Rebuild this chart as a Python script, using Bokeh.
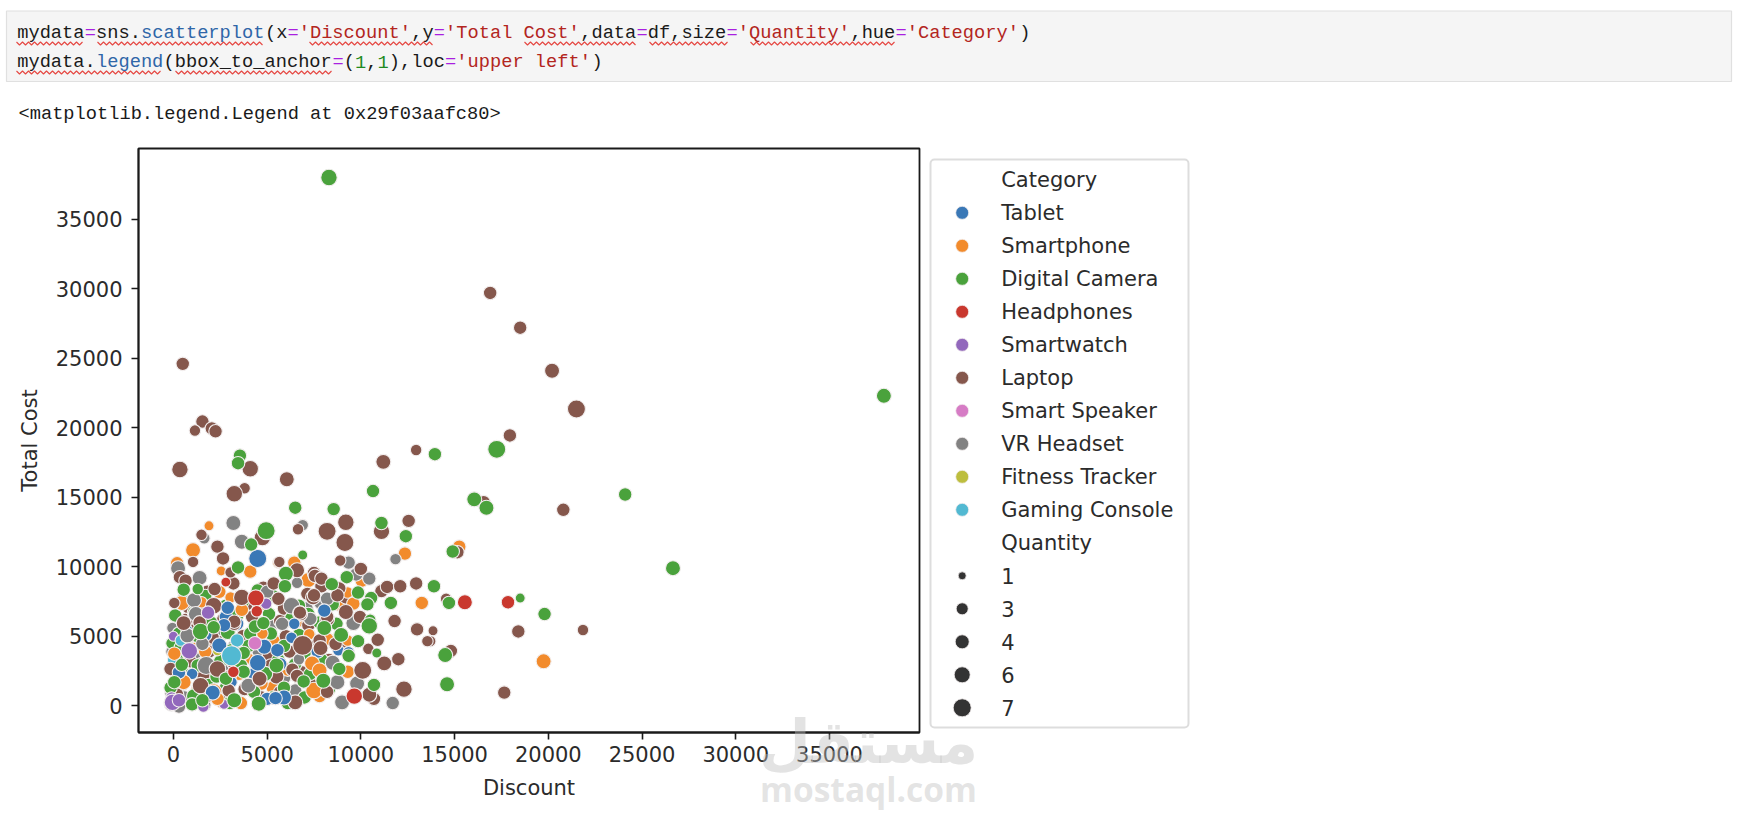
from bokeh.plotting import figure
from bokeh.layouts import column
from bokeh.models import (Range1d, FixedTicker, Label, BoxAnnotation, ColumnDataSource)
from bokeh.embed import file_html
from bokeh.resources import INLINE

# ---- values: (Discount, Total Cost, Quantity) ----
under_green = [(100,6500,3),(300,5200,3),(-100,4500,2),(200,3300,3),(700,2200,3),(-150,1300,3),(1100,700,4),(1900,1500,3),
 (2500,3200,3),(1300,5000,3),(2000,6000,3),(2900,5300,4),(3400,6500,3),(3600,2900,3),(4300,1000,3),(4900,2300,4),(5200,5200,3),
 (5600,3300,3),(5900,1300,3),(6300,6300,3),(6700,5100,3),(7000,3800,3),(7300,2300,3),(7900,3300,3),(600,7800,3),(1100,6700,3),
 (2800,7200,3),(4100,5200,3),(5100,6600,3),(6100,200,3),(3000,200,3),(1000,100,3),(7000,600,3),(8300,1200,3),(5300,7900,3),
 (1700,7900,3),(3700,7500,3),(4500,8300,3),(6700,7200,3),(7200,6600,3),(8500,7300,3),(7800,6000,3),(4000,4300,3),(2300,2100,3),
 (3100,4000,3),(5900,4300,3),(6500,3000,3),(8700,5900,3),(400,4200,3),(1300,2900,3),(2800,1300,3),(5300,600,3)]
under_laptop = [(300,4200,3),(900,3200,3),(1600,2200,3),(200,800,3),(2400,4600,3),(3200,3100,3),(3700,5000,3),(4200,6400,3),
 (4800,5300,4),(5100,3700,3),(5500,2100,4),(6200,3900,3),(6000,5000,3),(6900,2400,3),(7600,4300,3),(8300,3300,3),(2700,6200,4),
 (1500,7000,3),(700,6200,3),(1900,3900,3),(3800,1200,3),(4700,600,3),(5700,6100,3),(7200,5800,3),(2900,900,3),(1000,5400,3),
 (2100,4900,3),(3000,2100,3),(4400,3000,3),(5200,2900,3),(6800,4600,3),(7300,1600,3),(9000,4600,3),(9200,7800,3),(7900,8600,3),
 (5900,7000,3),(4800,8500,3),(3900,7300,3),(1800,8200,3),(800,7100,3),(200,2000,3),(1800,700,3),(5700,1000,3)]
under_orange = [(800,5000,3),(1300,1200,3),(2200,2800,2),(3100,5700,2),(4000,3400,2),(4600,7100,3),(5300,1300,3),(6100,2600,3),
 (7100,4700,2),(2600,300,3),(3600,200,3),(1200,4200,2),(500,3000,2),(7800,700,3),(6600,6000,2),(1900,4400,3),(3500,2300,3),
 (4700,1600,3),(6900,6500,3),(8200,4800,3),(8800,7300,3),(5400,4600,3),(1300,5900,2)]
under_tablet = [(-100,2800,2),(700,5500,2),(1700,5100,3),(2800,6400,3),(3400,5900,3),(4300,2300,3),(5700,3000,3),(6300,4900,2),
 (7700,3900,3),(3100,1700,2),(1000,2300,2),(5000,500,3),(5900,5900,2),(8800,4000,2)]
under_vr = [(-50,5600,2),(-100,3900,2),(400,1500,3),(1200,3600,3),(2200,600,2),(3200,4300,2),(4500,3900,2),(5300,5800,2),
 (6500,1100,3),(7300,5100,2),(-100,150,4),(-150,900,2),(300,-50,3),(1700,50,2),(600,600,3),(1500,3000,3),(3600,3800,3),
 (4900,4700,3),(5900,2000,3),(7100,7000,3),(900,4500,3),(2600,5400,3),(2900,2600,3)]
under_purple = [(-100,600,2),(0,5000,1),(1600,-50,2),(2700,100,1)]
under_cyan = [(-50,3300,1),(400,4700,2),(3400,4700,3)]

laptop = [(16900,29700,3),(18500,27200,3),(20200,24100,4),(21500,21350,6),(17950,19450,3),(500,24600,3),(1550,20450,3),
 (1150,19800,2),(2050,19950,3),(2250,19750,3),(350,17000,5),(4100,17050,5),(3800,15650,2),(3250,15250,5),(6050,16300,4),
 (11200,17550,4),(12950,18400,2),(9200,13200,5),(8200,12550,6),(12550,13300,3),(11100,12550,5),(9150,11750,6),(6650,12700,2),
 (1500,12300,2),(2350,11450,3),(2650,10600,3),(1050,10350,2),(4750,12100,5),(20800,14100,3),(16550,14650,3),(15150,11050,3),
 (18400,5350,3),(21850,5450,2),(17650,950,3),(13850,5400,1),(13700,4650,2),(14800,3950,3),(14550,7700,2),(350,9250,3),(650,9000,3),
 (2200,8400,3),(3200,8800,3),(3050,9600,2),(50,7400,2),(2150,7200,5),(3650,7800,5),(5600,7700,3),(6750,6650,4),(6600,9750,4),
 (7500,9550,3),(5350,8800,3),(5650,10350,2),(7150,8050,3),(7450,7800,4),(8900,10450,2),(10000,9850,3),(7550,9350,3),(7900,9150,3),
 (8850,8450,3),(11100,8250,3),(11400,8550,3),(12100,8600,3),(12950,8800,3),(9200,6750,4),(9950,6400,3),(11800,6100,3),(8200,6250,4),
 (7500,7950,3),(8750,7950,3),(12000,3350,3),(11250,3050,4),(10900,4750,3),(10400,4100,2),(13000,5500,3),(13550,4650,2),(12300,1200,5),
 (10700,500,3),(10450,800,4),(10100,2550,6),(8200,1000,3),(8650,4450,3),(7800,4700,3),(7850,4150,4),(6900,4350,7),(6350,2600,3),
 (6600,2150,3),(6800,6600,3),(8200,6400,3),(6750,6700,3),(550,5950,4),(3250,5900,3),(1400,6000,3),(2350,2650,5),(1450,1450,5),
 (2950,1100,3),(4600,1950,4),(6500,250,4),(3250,6050,3),(-150,2650,3),(1850,6700,2)]
vr_headset = [(3200,13150,4),(6900,13000,2),(3650,11800,4),(1650,12050,2),(11850,10550,2),(250,9900,4),(1400,9200,4),(1100,7600,4),
 (5000,8200,3),(6300,7200,5),(6600,8850,2),(9350,10300,3),(9750,9450,3),(10450,9150,3),(7850,7400,3),(8200,7700,3),(7300,6250,3),
 (5800,5900,3),(750,5050,4),(1550,4450,3),(1750,2900,6),(4000,1450,4),(6700,3350,2),(7300,6250,3),(9600,5950,4),(8500,3100,4),
 (8750,1700,4),(9800,1600,4),(9000,250,4),(11700,200,3),(1200,6600,4)]
smartphone = [(200,10250,3),(1050,11200,4),(1900,12950,1),(12350,10950,3),(13250,7400,3),(4100,9650,3),(2550,9700,1),(6450,10300,3),
 (5600,10300,2),(15250,11450,3),(19750,3200,4),(450,7400,4),(2450,8200,3),(1500,7450,2),(3050,7800,2),(3650,6900,3),(7200,9050,4),
 (10050,9000,3),(9300,8150,2),(9600,7350,3),(7250,5150,2),(2150,1000,5),(50,3750,3),(550,1700,4),(1700,3900,3),(7400,3050,4),
 (7500,1100,5),(9300,2450,3),(7800,2550,4),(4750,5200,2),(2350,500,3),(9300,4700,2)]
tablet = [(4500,10600,6),(2900,7050,3),(8050,6850,3),(6450,5900,2),(2450,4350,4),(4850,4250,4),(4500,3100,5),(5550,4000,3),(5900,600,4),
 (5450,550,3),(2100,950,4),(300,2400,3),(9350,3850,2),(2700,5800,3)]
digital_camera = [(8300,38000,5),(37900,22300,4),(26650,9900,4),(24100,15200,3),(17250,18450,6),(13950,18100,3),(3550,18000,3),
 (3450,17450,3),(10650,15450,3),(6500,14250,3),(8550,14150,3),(11100,13150,3),(12400,12200,3),(4950,12600,6),(4150,11600,3),
 (6900,10850,1),(3450,9950,3),(16050,14850,4),(16700,14250,4),(14900,11100,3),(13900,8600,3),(14700,7400,3),(18500,7750,1),
 (19800,6600,3),(14500,3650,4),(14600,1550,4),(550,8350,3),(1300,8400,2),(6000,9500,4),(5950,8600,3),(8450,8750,3),(9250,9250,3),
 (9850,8150,3),(10550,7750,3),(10350,7300,3),(11600,7400,3),(10500,6200,2),(10450,5750,5),(8050,5600,4),(8950,5100,4),(9850,4650,3),
 (9350,3600,3),(10850,3800,1),(4350,5700,3),(4800,5950,3),(1450,5350,5),(3750,3800,3),(450,2950,3),(5500,2900,4),(6950,1750,3),
 (50,1700,3),(2800,1950,3),(3750,2450,3),(4550,150,4),(3250,400,4),(1550,400,3),(8000,1800,4),(10700,1500,3),(8850,2650,3),(2150,5650,3)]
headphones = [(15550,7450,4),(17850,7450,3),(4400,7750,5),(4450,6800,2),(2800,8900,1),(3200,2450,2),(9650,700,5)]
smartwatch = [(1850,6700,3),(4950,7350,2),(850,3950,5),(-50,250,5),(300,400,3)]
smart_speaker = [(4350,4500,3)]
fitness_tracker = [(2350,3950,1)]
gaming_console = [(3100,3600,7)]

categories = ["Tablet", "Smartphone", "Digital Camera", "Headphones", "Smartwatch", "Laptop",
              "Smart Speaker", "VR Headset", "Fitness Tracker", "Gaming Console"]
category_colors = ["#3a78b6", "#f28b2c", "#4aa23c", "#c9382e", "#9268bc", "#85574c",
                   "#d67cc5", "#828282", "#bdbe3e", "#52b9d2"]
legend_quantities = [1, 3, 4, 6, 7]
x_ticks = [0, 5000, 10000, 15000, 20000, 25000, 30000, 35000]
y_ticks = [0, 5000, 10000, 15000, 20000, 25000, 30000, 35000]

# ---- layout (window pixels; the figure sits at the window's top-left corner) ----
W, H = 1736, 820
FL, FR, FT, FB = 138, 919, 148, 732
MARKER = {1: 10, 2: 11.5, 3: 13.5, 4: 15, 5: 16.5, 6: 18, 7: 20}
LEGEND_MARKER = {1: 8, 3: 12, 4: 14, 6: 16, 7: 18}
TEXT = "#2b2b2b"
SANS = "DejaVu Sans"
MONO = "Liberation Mono"

p = figure(width=W, height=H, output_backend="svg", toolbar_location=None,
           x_range=Range1d(-1860, 39800), y_range=Range1d(-1920, 40090),
           min_border_left=FL, min_border_right=W - FR, min_border_top=FT, min_border_bottom=H - FB,
           x_axis_label="Discount", y_axis_label="Total Cost")
p.grid.visible = False
p.outline_line_color = "#1a1a1a"
p.outline_line_width = 1.8
p.background_fill_color = "white"
p.border_fill_color = "white"
for ax, ticks in ((p.xaxis[0], x_ticks), (p.yaxis[0], y_ticks)):
    ax.ticker = FixedTicker(ticks=ticks)
    ax.formatter.use_scientific = False
    ax.major_tick_in = 0
    ax.major_tick_out = 7
    ax.major_tick_line_width = 1.6
    ax.major_tick_line_color = "#1a1a1a"
    ax.axis_line_color = "#1a1a1a"
    ax.axis_line_width = 1.8
    ax.minor_tick_line_color = None
    ax.major_label_text_font = SANS
    ax.major_label_text_font_size = "21px"
    ax.major_label_text_color = TEXT
    ax.axis_label_text_font = SANS
    ax.axis_label_text_font_size = "21px"
    ax.axis_label_text_font_style = "normal"
    ax.axis_label_text_color = TEXT
p.xaxis[0].major_label_standoff = 6
p.xaxis[0].axis_label_standoff = 11
p.yaxis[0].major_label_standoff = 9
p.yaxis[0].axis_label_standoff = 11
p.yaxis[0].major_label_orientation = "horizontal"

def draw(rows, color):
    src = ColumnDataSource(dict(discount=[r[0] for r in rows], total_cost=[r[1] for r in rows],
                                quantity=[r[2] for r in rows], size=[MARKER[r[2]] for r in rows]))
    return p.scatter("discount", "total_cost", size="size", source=src, marker="circle",
                     fill_color=color, line_color="#f2eeee", line_width=1.1)

c = dict(zip(categories, category_colors))
for rows, name in ((under_vr, "VR Headset"), (under_orange, "Smartphone"), (under_laptop, "Laptop"),
                   (under_green, "Digital Camera"), (under_tablet, "Tablet"), (under_purple, "Smartwatch"),
                   (under_cyan, "Gaming Console"), (fitness_tracker, "Fitness Tracker"),
                   (smartphone, "Smartphone"), (vr_headset, "VR Headset"), (laptop, "Laptop"),
                   (tablet, "Tablet"), (digital_camera, "Digital Camera"), (smartwatch, "Smartwatch"),
                   (headphones, "Headphones"), (gaming_console, "Gaming Console"), (smart_speaker, "Smart Speaker")):
    draw(rows, c[name])

# A transparent page-sized figure lies over the chart; its frame is the whole window, so nothing on it is clipped.
over = figure(width=W, height=H, frame_width=W, frame_height=H, output_backend="svg", toolbar_location=None,
              x_range=Range1d(0, W), y_range=Range1d(H, 0), x_axis_type=None, y_axis_type=None,
              min_border=0, min_border_left=0, min_border_right=0, min_border_top=0, min_border_bottom=0,
              outline_line_color=None, background_fill_alpha=0, border_fill_alpha=0,
              styles={"position": "absolute", "left": "0px", "top": "0px"})
over.grid.visible = False
for f in (p, over):
    if "frame_align" in f.properties():
        f.frame_align = False

def box(l, r, t, b, fill, line, lw, radius=0):
    over.add_layout(BoxAnnotation(left=l, right=r, top=H - t, bottom=H - b, left_units="screen", right_units="screen",
                                  top_units="screen", bottom_units="screen", fill_color=fill, fill_alpha=1, line_color=line,
                                  line_width=lw, line_alpha=1, border_radius=radius, editable=False, level="underlay"))

def text(px, py, s, size, color, font=MONO, style="normal", alpha=1.0, align="left"):
    over.add_layout(Label(x=px, y=H - py, x_units="screen", y_units="screen", text=s, text_font=font,
                          text_font_size=size, text_color=color, text_font_style=style, text_alpha=alpha,
                          text_align=align, text_baseline="middle"))

box(6, 1731, 10.5, 81, "#f5f5f5", "#e0e0e0", 1.2)

CH = 11.26
BLK, PUR, BLU, STR, GRN = "#1a1a1a", "#a91fe0", "#2f66a8", "#b3261e", "#1f8a1f"
code_lines = [
 (32, [("mydata", BLK), ("=", PUR), ("sns.", BLK), ("scatterplot", BLU), ("(x", BLK), ("=", PUR), ("'Discount'", STR), (",y", BLK), ("=", PUR),
       ("'Total Cost'", STR), (",data", BLK), ("=", PUR), ("df,size", BLK), ("=", PUR), ("'Quantity'", STR), (",hue", BLK), ("=", PUR),
       ("'Category'", STR), (")", BLK)]),
 (61, [("mydata.", BLK), ("legend", BLU), ("(bbox_to_anchor", BLK), ("=", PUR), ("(", BLK), ("1", GRN), (",", BLK), ("1", GRN), ("),loc", BLK), ("=", PUR),
       ("'upper left'", STR), (")", BLK)]),
]
for py, tokens in code_lines:
    n = 0
    for s, col in tokens:
        text(16.7 + n * CH, py, s, "18.7px", col)
        n += len(s)
text(18, 113, "<matplotlib.legend.Legend at 0x29f03aafc80>", "18.7px", BLK)

# spell-check squiggles
squiggles = [(43, 16, 84), (43, 97, 264), (43, 309, 434), (43, 524, 636), (43, 649, 727), (43, 750, 894),
             (72, 16, 162), (72, 175, 331)]
for py, a, b in squiggles:
    xs, ys, k = [], [], 0
    x = a
    while x <= b:
        xs.append(x)
        ys.append(py + (1.5 if k % 2 else -1.5))
        x += 3
        k += 1
    over.line(xs, ys, line_color="#e3342f", line_width=1.1, line_alpha=0.9)

# ---- legend ----
box(930, 1188, 159, 727, "white", "#dddddd", 2, 4)
ROW = 33
ROW0 = 179.3
MX, LX = 961.7, 1000.7

def dot(py, d, color):
    over.scatter([MX], [py], size=d, marker="circle", fill_color=color, line_color="#f2eeee", line_width=0.8)

text(LX, ROW0, "Category", "21px", TEXT, font=SANS)
for i, (name, col) in enumerate(zip(categories, category_colors)):
    dot(ROW0 + ROW * (i + 1), 13, col)
    text(LX, ROW0 + ROW * (i + 1), name, "21px", TEXT, font=SANS)
text(LX, ROW0 + ROW * 11, "Quantity", "21px", TEXT, font=SANS)
for i, q in enumerate(legend_quantities):
    dot(ROW0 + ROW * (12 + i), LEGEND_MARKER[q], "#333333")
    text(LX, ROW0 + ROW * (12 + i), str(q), "21px", TEXT, font=SANS)

# ---- watermark ----
text(868, 741, "مستقل", "60px", "#bdbdbd", font="DejaVu Sans", style="bold", alpha=0.42, align="center")
text(868, 788, "mostaql.com", "33.5px", "#bdbdbd", font="Open Sans", style="bold", alpha=0.42, align="center")

open("out.html", "w").write(file_html(column(p, over), INLINE))
